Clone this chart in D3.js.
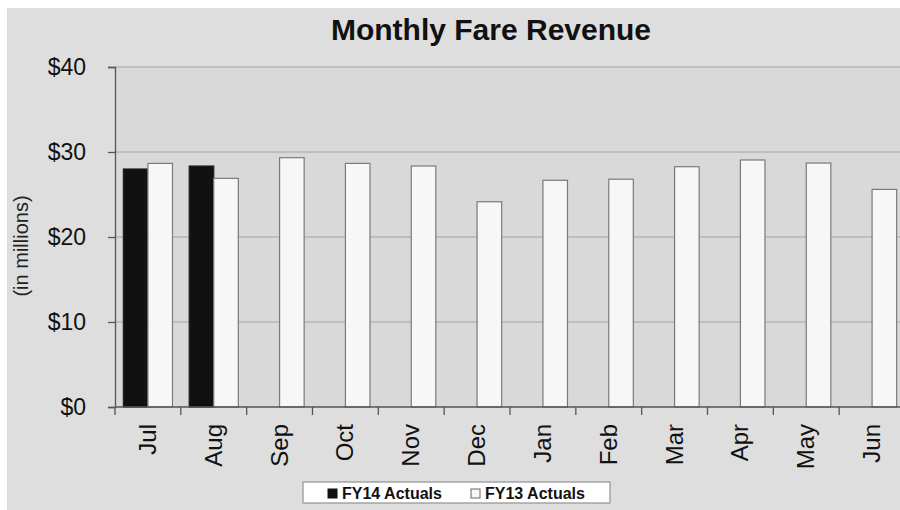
<!DOCTYPE html>
<html><head><meta charset="utf-8">
<script src="https://cdn.jsdelivr.net/npm/d3@7"></script>
<style>html,body{margin:0;padding:0;background:#fff;overflow:hidden}text{font-family:"Liberation Sans",Arial,sans-serif}</style>
</head><body><svg id="c" width="900" height="510"></svg>
<script>
const months = ["Jul","Aug","Sep","Oct","Nov","Dec","Jan","Feb","Mar","Apr","May","Jun"];
const fy14 = [28.0, 28.35, null, null, null, null, null, null, null, null, null, null];
const fy13 = [28.66, 26.9, 29.33, 28.66, 28.35, 24.15, 26.67, 26.8, 28.27, 29.06, 28.7, 25.6];
const seriesNames = ["FY14 Actuals", "FY13 Actuals"];
const yTicks = [0, 10, 20, 30, 40];
const title = "Monthly Fare Revenue";
const yLabel = "(in millions)";

const svg = d3.select("#c");
svg.append("rect").attr("x",7).attr("y",8).attr("width",900).attr("height",510).attr("fill","#dedede");

const x0 = d3.scaleBand().domain(months).range([115, 905]).padding(0);
const x1 = d3.scaleBand().domain(seriesNames).range([0, x0.bandwidth()]).paddingInner(0).paddingOuter(0.34);
const y = d3.scaleLinear().domain([0, 40]).range([407, 67]);

// plot area
svg.append("rect").attr("x",115).attr("y",y(40)).attr("width",790).attr("height",y(0)-y(40)).attr("fill","#d9d9d9");
// gridlines
svg.append("g").selectAll("line").data(yTicks.filter(d=>d>0)).join("line")
  .attr("x1",115).attr("x2",905).attr("y1",d=>y(d)).attr("y2",d=>y(d))
  .attr("stroke","#a3a3a3").attr("stroke-width",1.2);

// bars
const rows = months.map((m,i)=>({m, vals:[{s:seriesNames[0],v:fy14[i]},{s:seriesNames[1],v:fy13[i]}]}));
const g = svg.append("g");
rows.forEach(r=>{
  r.vals.forEach(d=>{
    if(d.v==null) return;
    g.append("rect")
      .attr("x", x0(r.m)+x1(d.s)).attr("y", y(d.v))
      .attr("width", x1.bandwidth()).attr("height", y(0)-y(d.v))
      .attr("fill", d.s===seriesNames[0] ? "#111111" : "#f7f7f7")
      .attr("stroke", d.s===seriesNames[0] ? "#222" : "#7a7a7a")
      .attr("stroke-width", 1.2);
  });
});

// y axis
const yAxis = d3.axisLeft(y).tickValues(yTicks).tickSize(7).tickPadding(22).tickFormat(d=>"$"+d);
const ya = svg.append("g").attr("transform","translate(115,0)").call(yAxis);
ya.select(".domain").attr("stroke","#555").attr("stroke-width",1.3);
ya.selectAll(".tick line").attr("stroke","#555").attr("stroke-width",1.3);
ya.selectAll(".tick text").attr("font-size",23).attr("fill","#111");

// x axis
const boundaries = months.map(m=>x0(m));
const xa = svg.append("g");
xa.append("line").attr("x1",115).attr("x2",905).attr("y1",y(0)).attr("y2",y(0)).attr("stroke","#555").attr("stroke-width",1.5);
xa.selectAll("line.tk").data(boundaries).join("line").attr("class","tk")
  .attr("x1",d=>d).attr("x2",d=>d).attr("y1",y(0)).attr("y2",y(0)+8).attr("stroke","#555").attr("stroke-width",1.3);
xa.selectAll("text").data(months).join("text")
  .attr("transform",d=>`translate(${x0(d)+x0.bandwidth()/2+8},${y(0)+17}) rotate(-90)`)
  .attr("text-anchor","end").attr("font-size",24).attr("fill","#111").text(d=>d);

// y label
svg.append("text").attr("transform","translate(28,246) rotate(-90)").attr("text-anchor","middle")
  .attr("font-size",20).attr("fill","#222").text(yLabel);

// title
svg.append("text").attr("x",491).attr("y",40).attr("text-anchor","middle")
  .attr("font-size",30).attr("font-weight","bold").attr("fill","#111").text(title);

// legend
const lg = svg.append("g");
lg.append("rect").attr("x",303).attr("y",482).attr("width",307).attr("height",21)
  .attr("fill","#fff").attr("stroke","#999").attr("stroke-width",1.3);
const lx = [328, 471];
seriesNames.forEach((s,i)=>{
  lg.append("rect").attr("x",lx[i]).attr("y",489).attr("width",9).attr("height",9)
    .attr("fill", i===0 ? "#111" : "#f7f7f7").attr("stroke", i===0 ? "#111" : "#666").attr("stroke-width",1);
  lg.append("text").attr("x",lx[i]+14).attr("y",499).attr("font-size",16).attr("font-weight","bold")
    .attr("fill","#111").text(s);
});
</script></body></html>
